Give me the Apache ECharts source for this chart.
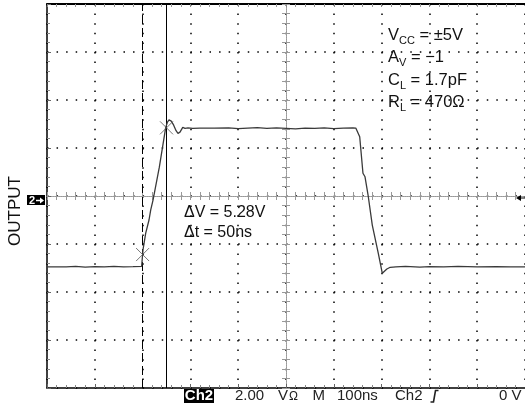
<!DOCTYPE html>
<html>
<head>
<meta charset="utf-8">
<script src="https://cdn.jsdelivr.net/npm/echarts@6/dist/echarts.min.js"></script>
<style>
  html, body { margin: 0; padding: 0; background: #fff; }
  #scope { width: 525px; height: 406px; }
</style>
</head>
<body>
<div id="scope"></div>
<script>
// Output step response, 2 V/div, 100 ns/div
const timeNs = [
  -500, -460, -440, -420, -400, -380, -360, -340, -320, -302,
  -300.6, -299.2, -293.5, -286.6, -283, -278.2, -265, -251.7, -248, -244.8,
  -240, -235, -230, -226, -221.8, -216, -211.3, -205, -195, -180,
  -150, -120, -100, -80, -60, -40, -20, 0, 20, 40,
  60, 80, 100, 120, 140, 146,
  149.2, 154.2, 161, 165.3, 172.2, 180.5, 193.1, 201.5, 205, 211,
  218, 230, 250, 280, 300, 330, 360, 400, 440, 470, 500
];
const outputV = [
  -2.95, -2.95, -2.93, -2.96, -2.94, -2.95, -2.93, -2.95, -2.94, -2.93,
  -2.95, -2.25, -1.55, -1.00, -0.58, -0.17, 1.20, 2.85, 3.08, 3.17,
  3.12, 2.95, 2.72, 2.61, 2.66, 2.86, 2.82, 2.84, 2.82, 2.83,
  2.83, 2.84, 2.81, 2.83, 2.85, 2.82, 2.84, 2.82, 2.80, 2.83,
  2.82, 2.84, 2.81, 2.83, 2.84, 2.83,
  2.79, 2.47, 0.95, 0.80, -0.03, -1.21, -2.39, -3.22, -3.20, -3.04,
  -2.97, -2.95, -2.93, -2.96, -2.94, -2.95, -2.93, -2.95, -2.94, -2.95, -2.95
];

// Cursor readout (dashed = first cursor, solid = second cursor)
const cursorT = [-300, -250];
const cursorV = [-2.44, 2.84];

// Setup annotations: symbol, subscript, remainder
const setupLines = [
  ['V', 'CC', ' = \u00B15V'],
  ['A', 'V', ' = \u22121'],
  ['C', 'L', ' = 1.7pF'],
  ['R', 'L', ' = 470\u03A9']
];

const chart = echarts.init(document.getElementById('scope'), null, { renderer: 'canvas' });

const FONT = '"Liberation Sans", Helvetica, Arial, sans-serif';
const plot = { left: 47, top: 4, width: 478, height: 384 };

// text width helper for placing subscripts
const measureCtx = document.createElement('canvas').getContext('2d');
function textWidth(text, size) {
  measureCtx.font = size + 'px ' + FONT;
  return measureCtx.measureText(text).width;
}

function baseAxis(extra) {
  return Object.assign({
    type: 'value',
    axisLabel: { show: false },
    splitLine: { show: false }
  }, extra);
}

const xAxes = [
  baseAxis({
    min: -500, max: 500, interval: 100, position: 'bottom',
    axisLine: { onZero: false, lineStyle: { color: '#000', width: 1.5 } },
    axisTick: { inside: true, length: 4, lineStyle: { color: '#666' } },
    minorTick: { show: true, splitNumber: 5, length: 3, lineStyle: { color: '#888' } },
    splitLine: { show: true, lineStyle: { color: '#000', width: 1.5, type: [1.5, 8.1] } }
  }),
  baseAxis({
    min: -500, max: 500, interval: 100, position: 'top',
    axisLine: { onZero: false, lineStyle: { color: '#000', width: 2 } },
    axisTick: { inside: true, length: 3, lineStyle: { color: '#888' } },
    minorTick: { show: true, splitNumber: 5, length: 3, lineStyle: { color: '#999' } }
  }),
  baseAxis({
    min: -500, max: 500, interval: 100, position: 'bottom',
    axisLine: { onZero: true, onZeroAxisIndex: 1, lineStyle: { color: '#999', width: 1, type: [1, 1] } },
    axisTick: { inside: true, length: 4, lineStyle: { color: '#999' } },
    minorTick: { show: true, splitNumber: 5, length: 4, lineStyle: { color: '#999' } }
  }),
  baseAxis({
    min: -500, max: 500, interval: 100, position: 'bottom',
    axisLine: { onZero: true, onZeroAxisIndex: 2, lineStyle: { color: '#999', width: 1, type: [1, 1] } },
    axisTick: { inside: false, length: 4, lineStyle: { color: '#999' } },
    minorTick: { show: true, splitNumber: 5, length: 4, lineStyle: { color: '#999' } }
  })
];

const yAxes = [
  baseAxis({
    min: -8, max: 8, interval: 2, position: 'left',
    axisLine: { onZero: false, lineStyle: { color: '#000', width: 1.5 } },
    axisTick: { inside: true, length: 4, lineStyle: { color: '#666' } },
    minorTick: { show: true, splitNumber: 5, length: 3, lineStyle: { color: '#888' } },
    splitLine: { show: true, lineStyle: { color: '#000', width: 1.5, type: [1.5, 8.06] } }
  }),
  baseAxis({
    min: -8, max: 8, interval: 2, position: 'left',
    axisLine: { onZero: true, onZeroAxisIndex: 1, lineStyle: { color: '#999', width: 1, type: [1, 1] } },
    axisTick: { inside: true, length: 4, lineStyle: { color: '#999' } },
    minorTick: { show: true, splitNumber: 5, length: 4, lineStyle: { color: '#999' } }
  }),
  baseAxis({
    min: -8, max: 8, interval: 2, position: 'left',
    axisLine: { onZero: true, onZeroAxisIndex: 2, lineStyle: { color: '#999', width: 1, type: [1, 1] } },
    axisTick: { inside: false, length: 4, lineStyle: { color: '#999' } },
    minorTick: { show: true, splitNumber: 5, length: 4, lineStyle: { color: '#999' } }
  })
];

function txt(x, y, text, size, opts) {
  return {
    type: 'text', x: x, y: y, z: 20,
    style: Object.assign({
      text: text, fontFamily: FONT, fontSize: size, fill: '#111',
      align: 'left', textAlign: 'left',
      verticalAlign: 'middle', textVerticalAlign: 'middle'
    }, opts || {})
  };
}

// setup text block: main symbol, lowered subscript, remainder
const MAIN = 16.5, SUB = 11;
const setupGraphics = [];
setupLines.forEach(function (parts, i) {
  const x0 = 388, y0 = 35 + i * 22.6;
  const w1 = textWidth(parts[0], MAIN);
  const w2 = textWidth(parts[1], SUB);
  setupGraphics.push(txt(x0, y0, parts[0], MAIN));
  setupGraphics.push(txt(x0 + w1, y0 + 5.5, parts[1], SUB));
  setupGraphics.push(txt(x0 + w1 + w2, y0, parts[2], MAIN));
});

const dV = (cursorV[1] - cursorV[0]).toFixed(2);
const dT = Math.round(cursorT[1] - cursorT[0]);

const STATUS = 15;
const graphics = [
  // channel label
  {
    type: 'text', x: 15, y: 211, rotation: Math.PI / 2, z: 20,
    style: {
      text: 'OUTPUT', fontFamily: FONT, fontSize: 17, fill: '#111',
      align: 'center', textAlign: 'center', verticalAlign: 'middle', textVerticalAlign: 'middle'
    }
  },
  // channel 2 ground marker
  { type: 'rect', z: 20, shape: { x: 27, y: 195, width: 18, height: 10 }, style: { fill: '#000' } },
  txt(29, 200.5, '2', 11, { fill: '#fff', fontWeight: 'bold' }),
  { type: 'polyline', z: 21, shape: { points: [[36, 200.5], [42, 200.5]] }, style: { stroke: '#fff', lineWidth: 1.5 } },
  { type: 'polygon', z: 21, shape: { points: [[44, 200.5], [40, 197.5], [40, 203.5]] }, style: { fill: '#fff' } },
  // trigger level marker on the right edge
  { type: 'polygon', z: 20, shape: { points: [[516, 198], [521, 195], [521, 201]] }, style: { fill: '#000' } },
  { type: 'polyline', z: 20, shape: { points: [[520, 198], [525, 198]] }, style: { stroke: '#000', lineWidth: 1 } },
  // cursor readout
  txt(184, 212.5, '\u0394V = ' + dV + 'V', 16),
  txt(184, 233, '\u0394t = ' + dT + 'ns', 16),
  // status line
  { type: 'rect', z: 20, shape: { x: 184, y: 389, width: 30, height: 14 }, style: { fill: '#000' } },
  txt(199, 396, 'Ch2', STATUS, { fill: '#fff', fontWeight: 'bold', align: 'center', textAlign: 'center' }),
  txt(235, 396, '2.00', STATUS, { fill: '#222' }),
  txt(278, 396, 'V', STATUS, { fill: '#222' }),
  txt(289, 396.5, '\u03A9', 12, { fill: '#222' }),
  txt(312.5, 396, 'M', STATUS, { fill: '#222' }),
  txt(337, 396, '100ns', STATUS, { fill: '#222' }),
  txt(395, 396, 'Ch2', STATUS, { fill: '#222' }),
  { type: 'polyline', z: 20, shape: { points: [[430.5, 402], [433.5, 402], [435.5, 390.5], [438.5, 390.5]] }, style: { stroke: '#222', lineWidth: 1.6, fill: null } },
  txt(499, 396, '0', STATUS, { fill: '#222' }),
  txt(511.5, 396, 'V', STATUS, { fill: '#222' })
].concat(setupGraphics);

chart.setOption({
  animation: false,
  backgroundColor: '#fff',
  grid: { left: plot.left, top: plot.top, width: plot.width, height: plot.height, containLabel: false },
  xAxis: xAxes,
  yAxis: yAxes,
  series: [
    {
      type: 'line',
      xAxisIndex: 0, yAxisIndex: 0,
      data: timeNs.map(function (t, i) { return [t, outputV[i]]; }),
      showSymbol: false, symbol: 'none',
      lineStyle: { color: '#3a3a3a', width: 1.3 },
      z: 5,
      markLine: {
        silent: true, symbol: 'none',
        label: { show: false },
        data: [
          { xAxis: cursorT[0], lineStyle: { color: '#000', width: 1, type: [9, 4] } },
          { xAxis: cursorT[1], lineStyle: { color: '#000', width: 1, type: 'solid' } }
        ]
      }
    },
    {
      type: 'scatter',
      xAxisIndex: 0, yAxisIndex: 0,
      data: cursorT.map(function (t, i) { return [t, cursorV[i]]; }),
      symbol: 'path://M0,0L10,10M10,0L0,10',
      symbolSize: 13,
      itemStyle: { color: 'rgba(0,0,0,0)', borderColor: '#555', borderWidth: 1 },
      z: 6
    }
  ],
  graphic: graphics
});
</script>
</body>
</html>
